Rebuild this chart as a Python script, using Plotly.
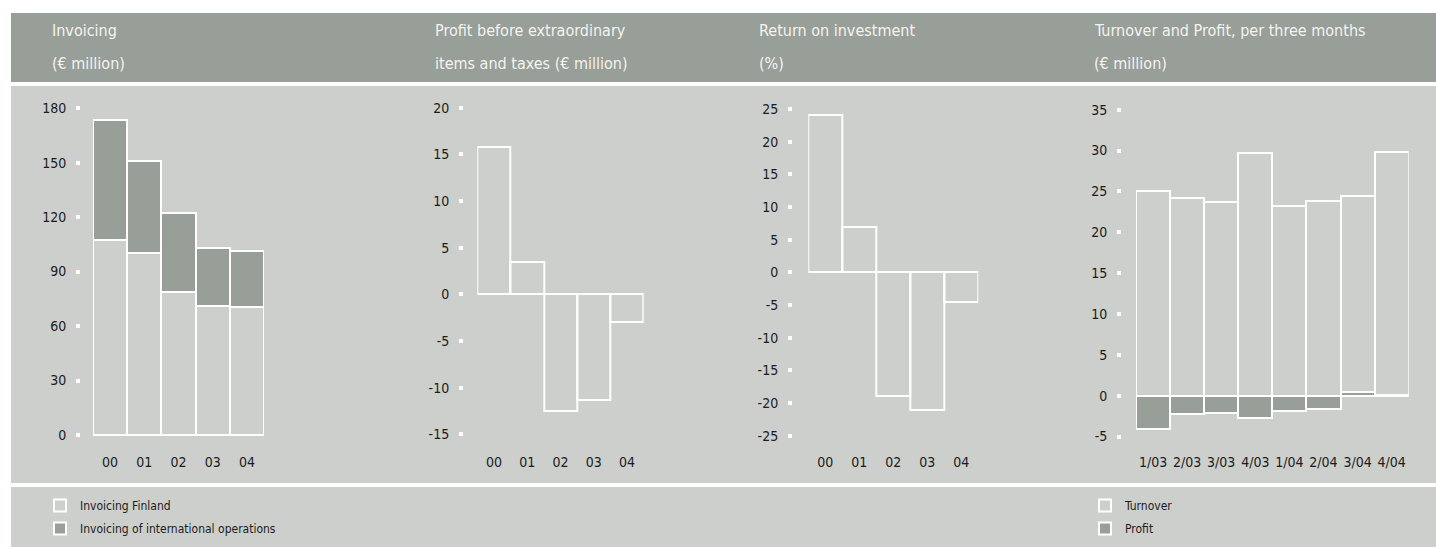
import plotly.graph_objects as go

W, H = 1436, 547

# ---------------- data ----------------
years = ["00", "01", "02", "03", "04"]
invoicing_finland = [107.5, 100.5, 79.0, 71.0, 70.5]
invoicing_international = [66.0, 50.5, 43.0, 32.0, 31.0]
profit_before_items = [15.8, 3.5, -12.5, -11.3, -3.0]
return_on_investment = [24.1, 6.9, -18.9, -21.0, -4.6]
quarters = ["1/03", "2/03", "3/03", "4/03", "1/04", "2/04", "3/04", "4/04"]
quarter_turnover = [25.1, 24.2, 23.7, 29.7, 23.2, 23.8, 24.4, 29.8]
quarter_profit = [-4.1, -2.2, -2.1, -2.7, -1.9, -1.6, 0.45, 0.1]

invoicing_ticks = [0, 30, 60, 90, 120, 150, 180]
profit_ticks = [-15, -10, -5, 0, 5, 10, 15, 20]
roi_ticks = [-25, -20, -15, -10, -5, 0, 5, 10, 15, 20, 25]
quarter_ticks = [-5, 0, 5, 10, 15, 20, 25, 30, 35]

titles = [
    ("Invoicing", "(€ million)"),
    ("Profit before extraordinary", "items and taxes (€ million)"),
    ("Return on investment", "(%)"),
    ("Turnover and Profit, per three months", "(€ million)"),
]

# ---------------- style ----------------
FONT = "DejaVu Sans Condensed, Liberation Sans Narrow, sans-serif"
HEADER = "#989e98"
BODY = "#cdcfcc"
BAR_DARK = "#989e98"
TEXT = "#1c1c1c"
CLEAR = "rgba(0,0,0,0)"


def fx(px):
    return px / W


def fy(py):
    return 1 - py / H


fig = go.Figure()

outline = dict(color="white", width=2)

fig.add_trace(go.Bar(x=years, y=invoicing_finland, name="Invoicing Finland",
                     marker=dict(color=CLEAR, line=outline), legendgroup="a",
                     xaxis="x", yaxis="y", legend="legend"))
fig.add_trace(go.Bar(x=years, y=invoicing_international, base=invoicing_finland,
                     name="Invoicing of international operations", legendgroup="b",
                     marker=dict(color=BAR_DARK, line=outline),
                     xaxis="x", yaxis="y", legend="legend"))
fig.add_trace(go.Bar(x=years, y=profit_before_items, name="Profit before extraordinary items and taxes",
                     marker=dict(color=CLEAR, line=outline), showlegend=False,
                     xaxis="x2", yaxis="y2"))
fig.add_trace(go.Bar(x=years, y=return_on_investment, name="Return on investment",
                     marker=dict(color=CLEAR, line=outline), showlegend=False,
                     xaxis="x3", yaxis="y3"))
fig.add_trace(go.Bar(x=quarters, y=quarter_turnover, name="Turnover", legendgroup="c",
                     marker=dict(color=CLEAR, line=outline),
                     xaxis="x4", yaxis="y4", legend="legend2"))
fig.add_trace(go.Bar(x=quarters, y=quarter_profit, name="Profit", legendgroup="d",
                     marker=dict(color=BAR_DARK, line=outline),
                     xaxis="x4", yaxis="y4", legend="legend2"))

# plot area (pixels): top 100, bottom 445
ydom = [fy(445), fy(100)]
specs = [
    # bars x0, bars x1, tick-dot x, y range, tick values
    (93, 264, 80, [-5.5, 184.5], invoicing_ticks),
    (477.3, 643.7, 463, [-16.15, 20.82], profit_ticks),
    (808.3, 978.3, 792, [-26.43, 26.37], roi_ticks),
    (1136, 1408.7, 1121, [-6.03, 36.18], quarter_ticks),
]

tickfont = dict(family=FONT, size=14, color=TEXT)
for i, (x0, x1, dx, yr, tv) in enumerate(specs):
    s = "" if i == 0 else str(i + 1)
    fig.layout["xaxis" + s] = dict(
        domain=[fx(x0), fx(x1)], anchor="y" + s, type="category",
        showgrid=False, zeroline=False, showline=False, ticks="",
        tickfont=tickfont, ticklabelstandoff=7, fixedrange=True,
    )
    fig.layout["yaxis" + s] = dict(
        domain=ydom, anchor="free", position=fx(dx), range=yr,
        tickmode="array", tickvals=tv, ticktext=[str(v) for v in tv],
        showgrid=False, zeroline=False, showline=False,
        ticks="outside", ticklen=4, tickwidth=4, tickcolor="white",
        tickfont=tickfont, ticklabelstandoff=7, fixedrange=True,
    )

# background panels
shapes = [
    dict(type="rect", xref="paper", yref="paper", x0=fx(11), x1=1, y0=fy(82), y1=fy(13),
         fillcolor=HEADER, line=dict(width=0), layer="below"),
    dict(type="rect", xref="paper", yref="paper", x0=fx(11), x1=1, y0=fy(483), y1=fy(86),
         fillcolor=BODY, line=dict(width=0), layer="below"),
    dict(type="rect", xref="paper", yref="paper", x0=fx(11), x1=1, y0=0, y1=fy(487),
         fillcolor=BODY, line=dict(width=0), layer="below"),
]

title_x = [50, 433, 757, 1092]
annotations = []
for tx, (l1, l2) in zip(title_x, titles):
    for text, yy in ((l1, 30), (l2, 64)):
        annotations.append(dict(
            text=text, x=fx(tx), y=fy(yy), xref="paper", yref="paper",
            xanchor="left", yanchor="middle", showarrow=False,
            font=dict(family=FONT, size=16, color="#f4f4f0"),
        ))

legend_style = dict(
    bgcolor=CLEAR, borderwidth=0, yanchor="top", xanchor="left",
    font=dict(family=FONT, size=12, color=TEXT), traceorder="grouped",
    tracegroupgap=4, itemclick=False, itemdoubleclick=False,
)

fig.update_layout(
    width=W, height=H, margin=dict(l=0, r=0, t=0, b=0),
    paper_bgcolor="white", plot_bgcolor=CLEAR,
    barmode="overlay", bargap=0,
    shapes=shapes, annotations=annotations,
    legend=dict(x=fx(40), y=fy(491), **legend_style),
    legend2=dict(x=fx(1085), y=fy(491), **legend_style),
    font=dict(family=FONT, color=TEXT),
)

fig.write_html("out.html", config={"displayModeBar": False})
